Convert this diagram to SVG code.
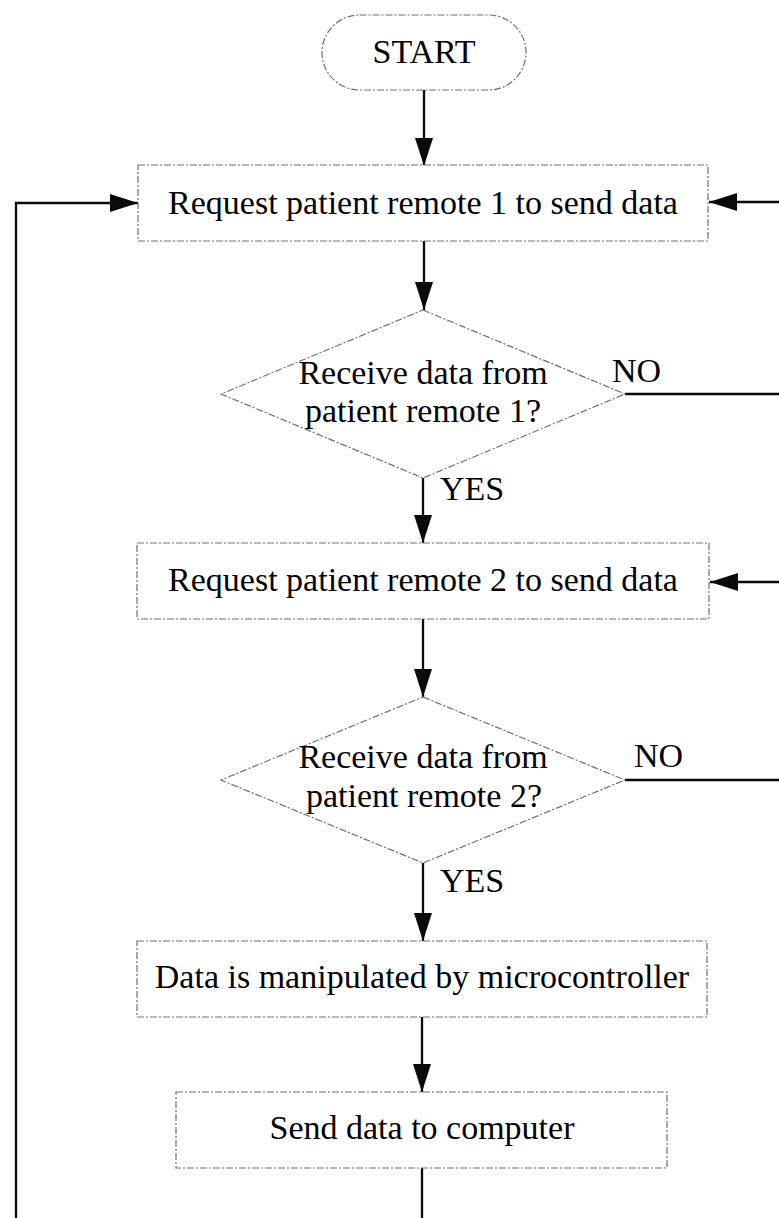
<svg xmlns="http://www.w3.org/2000/svg" width="779" height="1218" viewBox="0 0 779 1218">
  <style>
    .shape { fill: #ffffff; stroke: #707070; stroke-width: 1.2; stroke-dasharray: 7 2 2 2; }
    .label { font-family: "Liberation Serif", "Times New Roman", serif; font-size: 34px; fill: #000000; }
    .mid { text-anchor: middle; }
    .wire { fill: none; stroke: #0a0a0a; stroke-width: 2.3; }
    .arrow { marker-end: url(#head); }
  </style>
  <defs>
    <marker id="head" markerUnits="userSpaceOnUse" markerWidth="29" markerHeight="18" refX="28" refY="9" orient="auto">
      <path d="M0,0 L28,9 L0,18 Z" fill="#0a0a0a"/>
    </marker>
  </defs>

  <rect width="779" height="1218" fill="#ffffff"/>

  <!-- connectors -->
  <g id="connectors">
    <line class="wire arrow" x1="424" y1="90" x2="424" y2="166"/>
    <line class="wire arrow" x1="424" y1="241" x2="424" y2="310"/>
    <line class="wire arrow" x1="423" y1="478" x2="423" y2="543"/>
    <line class="wire arrow" x1="423" y1="619" x2="423" y2="697"/>
    <line class="wire arrow" x1="423" y1="863" x2="423" y2="941"/>
    <line class="wire arrow" x1="422" y1="1017" x2="422" y2="1092"/>
    <line class="wire" x1="422" y1="1168" x2="422" y2="1218"/>
    <!-- NO branches running off to the right -->
    <line class="wire" x1="625" y1="394" x2="779" y2="394"/>
    <line class="wire" x1="625" y1="780" x2="779" y2="780"/>
    <!-- returns entering the request boxes from the right -->
    <line class="wire arrow" x1="779" y1="202" x2="709" y2="202"/>
    <line class="wire arrow" x1="779" y1="582" x2="710" y2="582"/>
    <!-- main loop back to the first request -->
    <polyline class="wire arrow" points="16,1218 16,203 138,203"/>
  </g>

  <g id="start">
    <rect class="shape" x="322" y="15" width="204" height="75" rx="37.5"/>
    <text class="label mid" x="424" y="63">START</text>
  </g>

  <g id="request1">
    <rect class="shape" x="138" y="165" width="570" height="76"/>
    <text class="label mid" x="423" y="214">Request patient remote 1 to send data</text>
  </g>

  <g id="check1">
    <polygon class="shape" points="423,310 625,394 423,478 221,394"/>
    <text class="label mid" x="423" y="384">Receive data from</text>
    <text class="label mid" x="423" y="422">patient remote 1?</text>
    <text class="label" x="612" y="382">NO</text>
    <text class="label" x="440" y="500">YES</text>
  </g>

  <g id="request2">
    <rect class="shape" x="137" y="543" width="572" height="76"/>
    <text class="label mid" x="423" y="591">Request patient remote 2 to send data</text>
  </g>

  <g id="check2">
    <polygon class="shape" points="423,697 625,780 423,863 221,780"/>
    <text class="label mid" x="423" y="768">Receive data from</text>
    <text class="label mid" x="424" y="807">patient remote 2?</text>
    <text class="label" x="634" y="767">NO</text>
    <text class="label" x="440" y="892">YES</text>
  </g>

  <g id="process">
    <rect class="shape" x="137" y="941" width="570" height="76"/>
    <text class="label mid" x="422" y="988">Data is manipulated by microcontroller</text>
  </g>

  <g id="send">
    <rect class="shape" x="176" y="1092" width="491" height="76"/>
    <text class="label mid" x="422" y="1139">Send data to computer</text>
  </g>
</svg>
